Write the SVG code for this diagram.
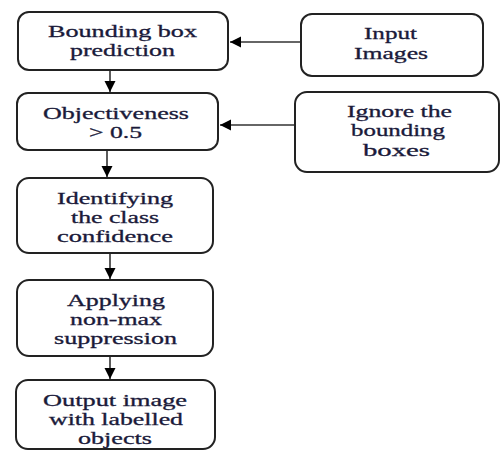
<svg xmlns="http://www.w3.org/2000/svg" width="501" height="459" viewBox="0 0 501 459">
<style>
.box{fill:#fff;stroke:#222;stroke-width:2}
.t{font-family:"Liberation Serif",serif;font-size:16.5px;fill:#1a1a3a;stroke:#1a1a3a;stroke-width:0.3;text-anchor:middle}
.c{stroke:#333;stroke-width:1.6;fill:none}
</style>
<defs>
<marker id="ah" markerUnits="userSpaceOnUse" markerWidth="12" markerHeight="12" refX="11" refY="6" orient="auto">
<path d="M0,0.5 L11,6 L0,11.5 z" fill="#000"/>
</marker>
</defs>
<rect width="501" height="459" fill="#fff"/>
<g id="connectors">
<line class="c" x1="300" y1="42" x2="230" y2="42" marker-end="url(#ah)"/>
<line class="c" x1="295" y1="125" x2="220" y2="125" marker-end="url(#ah)"/>
<line class="c" x1="110" y1="70" x2="110" y2="92" marker-end="url(#ah)"/>
<line class="c" x1="107" y1="150" x2="107" y2="177" marker-end="url(#ah)"/>
<line class="c" x1="110" y1="253" x2="110" y2="279" marker-end="url(#ah)"/>
<line class="c" x1="110" y1="356" x2="110" y2="379" marker-end="url(#ah)"/>
</g>
<g id="bbox">
<rect class="box" x="18" y="12" width="210" height="58" rx="11"/>
<text class="t" x="122.5" y="37" textLength="149" lengthAdjust="spacingAndGlyphs">Bounding box</text>
<text class="t" x="122.5" y="56" textLength="105" lengthAdjust="spacingAndGlyphs">prediction</text>
</g>
<g id="input">
<rect class="box" x="301" y="14" width="182" height="62" rx="11"/>
<text class="t" x="390.5" y="39" textLength="53" lengthAdjust="spacingAndGlyphs">Input</text>
<text class="t" x="391" y="59" textLength="74" lengthAdjust="spacingAndGlyphs">Images</text>
</g>
<g id="objectiveness">
<rect class="box" x="17" y="93" width="201" height="57" rx="11"/>
<text class="t" x="116" y="119" textLength="146" lengthAdjust="spacingAndGlyphs">Objectiveness</text>
<text class="t" x="115.5" y="138" textLength="53" lengthAdjust="spacingAndGlyphs">&gt; 0.5</text>
</g>
<g id="ignore">
<rect class="box" x="295" y="92" width="204" height="80" rx="12"/>
<text class="t" x="399.5" y="117" textLength="105" lengthAdjust="spacingAndGlyphs">Ignore the</text>
<text class="t" x="398" y="136" textLength="94" lengthAdjust="spacingAndGlyphs">bounding</text>
<text class="t" x="396.5" y="156" textLength="67" lengthAdjust="spacingAndGlyphs">boxes</text>
</g>
<g id="identify">
<rect class="box" x="17" y="178" width="196" height="75" rx="12"/>
<text class="t" x="115" y="204" textLength="116" lengthAdjust="spacingAndGlyphs">Identifying</text>
<text class="t" x="115" y="223" textLength="88" lengthAdjust="spacingAndGlyphs">the class</text>
<text class="t" x="115" y="242" textLength="116" lengthAdjust="spacingAndGlyphs">confidence</text>
</g>
<g id="nms">
<rect class="box" x="17" y="280" width="196" height="76" rx="12"/>
<text class="t" x="116" y="306" textLength="98" lengthAdjust="spacingAndGlyphs">Applying</text>
<text class="t" x="116" y="325" textLength="92" lengthAdjust="spacingAndGlyphs">non-max</text>
<text class="t" x="115.5" y="344" textLength="123" lengthAdjust="spacingAndGlyphs">suppression</text>
</g>
<g id="output">
<rect class="box" x="16" y="380" width="199" height="69" rx="12"/>
<text class="t" x="115" y="406" textLength="144" lengthAdjust="spacingAndGlyphs">Output image</text>
<text class="t" x="116" y="425" textLength="134" lengthAdjust="spacingAndGlyphs">with labelled</text>
<text class="t" x="115" y="444" textLength="74" lengthAdjust="spacingAndGlyphs">objects</text>
</g>
</svg>
